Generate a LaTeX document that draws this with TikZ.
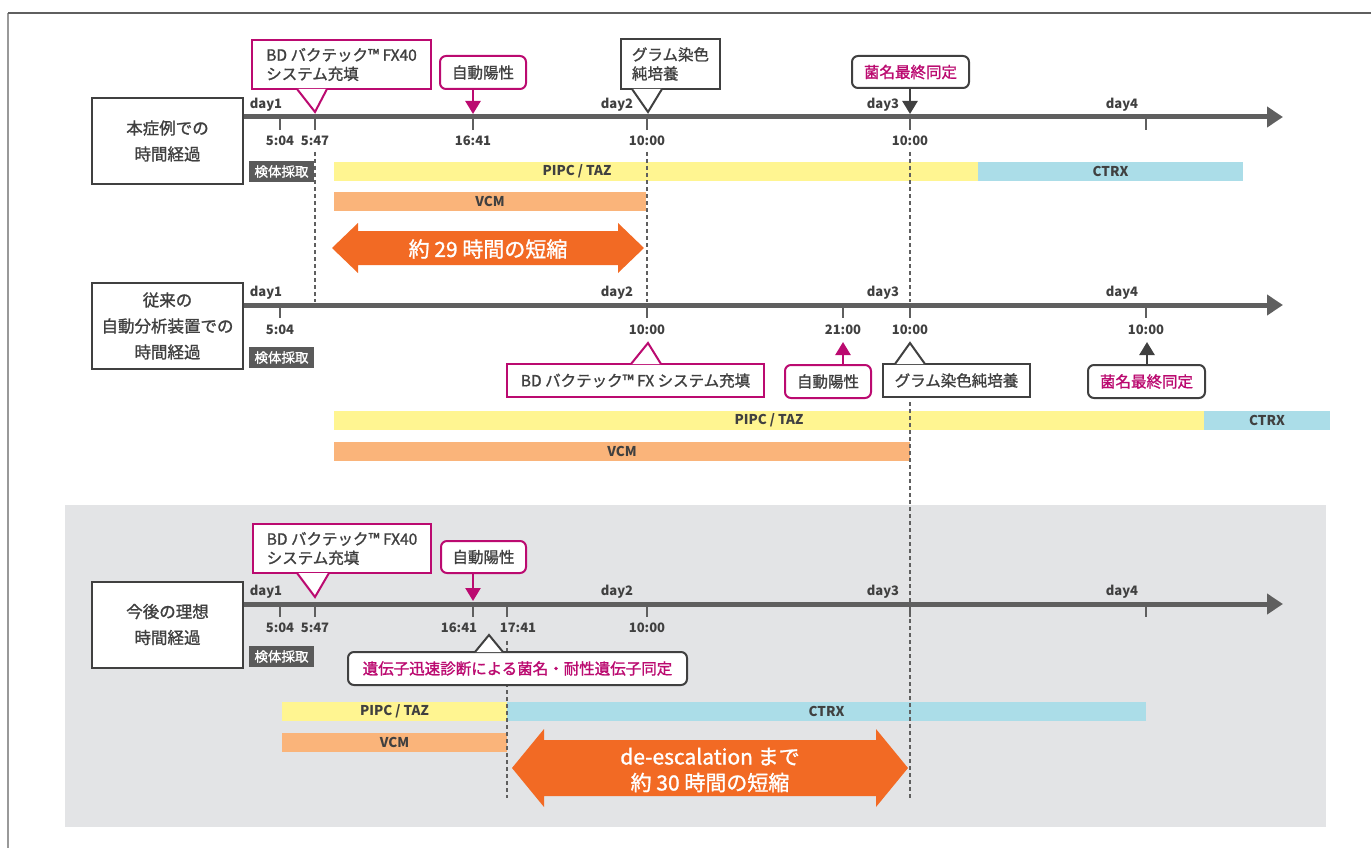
\documentclass[tikz,border=0pt]{standalone}
\usepackage{fontspec}
\setmainfont{Noto Sans CJK JP}
\newfontfamily\medfont{Noto Sans CJK JP}[FakeBold=1.3]
\usepackage{tikz}
\usetikzlibrary{arrows.meta, calc, backgrounds}
\definecolor{brandmag}{RGB}{187, 10, 112}
\definecolor{inkgray}{RGB}{64, 64, 64}
\definecolor{axisgray}{RGB}{95, 95, 95}
\definecolor{sampgray}{RGB}{90, 90, 90}
\definecolor{tagyellow}{RGB}{255, 245, 145}
\definecolor{tagblue}{RGB}{171, 221, 232}
\definecolor{tagorange}{RGB}{250, 180, 122}
\definecolor{arroworange}{RGB}{242, 106, 36}
\definecolor{panelgray}{RGB}{227, 228, 230}

\tikzset{
    lbox/.style={draw=inkgray, line width=2pt, fill=white, minimum width=151pt,
                 minimum height=86pt, inner sep=0pt, align=center, text=inkgray,
                 font=\medfont\fontsize{16.5}{26}\selectfont},
    axisline/.style={draw=axisgray, line width=5pt, -{Triangle[length=16pt, width=20pt]}},
    tickmark/.style={draw=axisgray, line width=2.5pt},
    timelbl/.style={text=inkgray, inner sep=0pt, font=\fontsize{13}{16}\selectfont\bfseries},
    sample/.style={fill=sampgray, text=white, minimum width=65pt, minimum height=21pt,
                   inner sep=0pt, font=\medfont\fontsize{13.5}{16}\selectfont},
    sqcall/.style={draw=#1, line width=2pt, fill=white, text=inkgray, inner sep=0pt,
                   align=left, font=\medfont\fontsize{15.5}{19}\selectfont},
    sqcall/.default=brandmag,
    rdcall/.style={sqcall=#1, rounded corners=6pt},
    rdcall/.default=brandmag,
    tiptri/.style={fill=white, draw=#1, line width=2pt, line join=miter},
    pinarrow/.style={draw=#1, line width=2.5pt, -{Triangle[length=13pt, width=15pt]}},
    bar/.style={minimum height=19pt, inner sep=0pt, text=inkgray,
                font=\fontsize{13.5}{15}\selectfont\bfseries},
    guide/.style={draw=axisgray, line width=1.2pt, dash pattern=on 4pt off 3pt},
    bigtext/.style={text=white, align=center, font=\medfont\fontsize{21}{26}\selectfont},
    frameline/.style={line width=1.5pt}
}

\begin{document}
\begin{tikzpicture}[x=1pt, y=-1pt]
    \useasboundingbox (0,0) rectangle (1371,848);
    % frame and panel
    \draw[frameline, draw=gray!80] (8,848) -- (8,13);
    \draw[frameline, draw=axisgray] (8,13) -- (1371,13);
    \fill[panelgray] (65,505) rectangle (1326,827);

    % bars
    \node[bar, fill=tagyellow, minimum width=644pt] (py1) at (656,171.5) {};
    \node[bar] (py1t) at (577,171.5) {PIPC / TAZ};
    \node[bar, fill=tagblue, minimum width=265pt] (ct1) at (1110.5,171.5) {CTRX};
    \node[bar, fill=tagorange, minimum width=312pt] (vc1) at (490,201.5) {VCM};
    \node[bar, fill=tagyellow, minimum width=870pt] (py2) at (769,420.5) {PIPC / TAZ};
    \node[bar, fill=tagblue, minimum width=126pt] (ct2) at (1267,420.5) {CTRX};
    \node[bar, fill=tagorange, minimum width=576pt] (vc2) at (622,451) {VCM};
    \node[bar, fill=tagyellow, minimum width=225pt] (py3) at (394.5,711.5) {PIPC / TAZ};
    \node[bar, fill=tagblue, minimum width=639pt] (ct3) at (826.5,711.5) {CTRX};
    \node[bar, fill=tagorange, minimum width=225pt] (vc3) at (394.5,742.5) {VCM};

    % guide lines
    \draw[guide] (315,152) -- (315,302);
    \draw[guide] (647,152) -- (647,302);
    \draw[guide] (910,152) -- (910,302);
    \draw[guide] (910,402) -- (910,800);
    \draw[guide] (507,641) -- (507,798);

    % big arrows
    \fill[arroworange] (332,248) -- (358,223) -- (358,231) -- (618,231) -- (618,223)
        -- (644,248) -- (618,273) -- (618,265) -- (358,265) -- (358,273) -- cycle;
    \node[bigtext] (gain1) at (488,249) {約 29 時間の短縮};
    \fill[arroworange] (512,768) -- (544,729) -- (544,740) -- (876,740) -- (876,729)
        -- (908,768) -- (876,807) -- (876,796) -- (544,796) -- (544,807) -- cycle;
    \node[bigtext] (gain3) at (710,770) {de-escalation まで\\約 30 時間の短縮};

    % left boxes
    \node[lbox] (lb1) at (167.5,141) {本症例での\\時間経過};
    \node[lbox] (lb2) at (167.5,326) {従来の\\自動分析装置での\\時間経過};
    \node[lbox] (lb3) at (167.5,624.5) {今後の理想\\時間経過};

    % axes
    \coordinate (ax1) at (1283,117);
    \coordinate (ax2) at (1283,305);
    \coordinate (ax3) at (1283,604);
    \draw[axisline] (ax1 -| lb1.east) -- (ax1);
    \draw[axisline] (ax2 -| lb2.east) -- (ax2);
    \draw[axisline] (ax3 -| lb3.east) -- (ax3);

    % ticks and times
    \foreach \x/\t in {280/5:04, 315/5:47, 473/16:41, 647/10:00, 910/10:00, 1146/{}} {
        \draw[tickmark] (\x,117) -- (\x,130);
        \node[timelbl] (r1t\x) at (\x,141) {\t};
    }
    \foreach \x/\t in {280/5:04, 647/10:00, 843/21:00, 910/10:00, 1146/10:00} {
        \draw[tickmark] (\x,305) -- (\x,318);
        \node[timelbl] (r2t\x) at (\x,330) {\t};
    }
    \foreach \x/\t/\p in {280/5:04/280, 315/5:47/315, 473/16:41/459, 507/17:41/518,
                          647/10:00/647, 910/{}/910, 1146/{}/1146} {
        \draw[tickmark] (\x,604) -- (\x,617);
        \node[timelbl] (r3t\x) at (\p,628) {\t};
    }
    \foreach \x/\d in {266/1, 617/2, 883/3, 1122/4} {
        \node[timelbl] (r1d\d) at (\x,105) {day\d};
        \node[timelbl] (r2d\d) at (\x,293) {day\d};
        \node[timelbl] (r3d\d) at (\x,592) {day\d};
    }

    % specimen tags
    \node[sample] (sp1) at (281.5,171.5) {検体採取};
    \node[sample] (sp2) at (281.5,357.5) {検体採取};
    \node[sample] (sp3) at (281.5,656.5) {検体採取};

    % row 1 callouts
    \node[sqcall, minimum width=179pt, minimum height=49pt] (bd1) at (341.5,64.5)
        {BD バクテック™ FX40\\システム充填};
    \coordinate (bd1t) at (315,112);
    \filldraw[tiptri=brandmag] ($(bd1.south west)+(46,-1)$) -- (bd1t) -- ($(bd1.south west)+(76,-1)$);
    \node[rdcall, minimum width=86pt, minimum height=33pt, align=center] (ap1) at (483,72.5) {自動陽性};
    \coordinate (ap1t) at (473,114);
    \draw[pinarrow=brandmag] (ap1.south -| ap1t) -- (ap1t);
    \node[sqcall=inkgray, minimum width=99pt, minimum height=50pt] (gr1) at (670.5,64)
        {グラム染色\\純培養};
    \coordinate (gr1t) at (648,112);
    \filldraw[tiptri=inkgray] ($(gr1.south west)+(12,-1)$) -- (gr1t) -- ($(gr1.south west)+(42,-1)$);
    \node[rdcall=inkgray, text=brandmag, minimum width=117pt, minimum height=32pt, align=center]
        (ki1) at (910.5,72) {菌名最終同定};
    \coordinate (ki1t) at (910,114);
    \draw[pinarrow=inkgray] (ki1.south -| ki1t) -- (ki1t);

    % row 2 callouts
    \node[sqcall, minimum width=257pt, minimum height=33pt, align=center] (bd2) at (635.5,380.5)
        {BD バクテック™ FX システム充填};
    \coordinate (bd2t) at (648,343);
    \filldraw[tiptri=brandmag] ($(bd2.north west)+(125,1)$) -- (bd2t) -- ($(bd2.north west)+(155,1)$);
    \node[rdcall, minimum width=86pt, minimum height=33pt, align=center] (ap2) at (828,381.5) {自動陽性};
    \coordinate (ap2t) at (843,342);
    \draw[pinarrow=brandmag] (ap2.north -| ap2t) -- (ap2t);
    \node[sqcall=inkgray, minimum width=147pt, minimum height=33pt, align=center] (gr2) at (956.5,380.5)
        {グラム染色純培養};
    \coordinate (gr2t) at (910,343);
    \filldraw[tiptri=inkgray] ($(gr2.north west)+(13,1)$) -- (gr2t) -- ($(gr2.north west)+(43,1)$);
    \node[rdcall=inkgray, text=brandmag, minimum width=117pt, minimum height=33pt, align=center]
        (ki2) at (1146.5,381.5) {菌名最終同定};
    \coordinate (ki2t) at (1147,342);
    \draw[pinarrow=inkgray] (ki2.north -| ki2t) -- (ki2t);

    % row 3 callouts
    \node[sqcall, minimum width=178pt, minimum height=49pt] (bd3) at (342,548.5)
        {BD バクテック™ FX40\\システム充填};
    \coordinate (bd3t) at (315,597);
    \filldraw[tiptri=brandmag] ($(bd3.south west)+(45,-1)$) -- (bd3t) -- ($(bd3.south west)+(77,-1)$);
    \node[rdcall, minimum width=85pt, minimum height=32pt, align=center] (ap3) at (483.5,557) {自動陽性};
    \coordinate (ap3t) at (473,601);
    \draw[pinarrow=brandmag] (ap3.south -| ap3t) -- (ap3t);
    \node[rdcall=inkgray, text=brandmag, minimum width=339pt, minimum height=33pt, align=center]
        (gd3) at (517.5,668.5) {遺伝子迅速診断による菌名・耐性遺伝子同定};
    \coordinate (gd3t) at (489,635);
    \filldraw[tiptri=inkgray] ($(gd3.north west)+(128,1)$) -- (gd3t) -- ($(gd3.north west)+(156,1)$);
\end{tikzpicture}
\end{document}
